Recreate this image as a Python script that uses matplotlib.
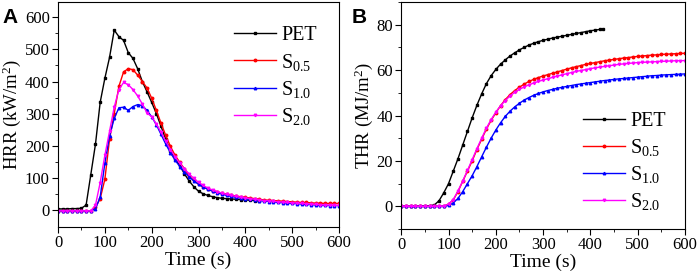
import matplotlib.pyplot as plt
import numpy as np

plt.rcParams['font.family'] = ['Liberation Serif', 'DejaVu Serif']
plt.rcParams['mathtext.fontset'] = 'custom'
plt.rcParams['mathtext.rm'] = 'Liberation Serif'
plt.rcParams['mathtext.it'] = 'Liberation Serif:italic'

# Dados - HRR (passo de 10 s)
t_hrr_pet = np.arange(0, 440, 10)
hrr_pet = [3, 3, 3, 4, 4, 5, 15, 110, 205, 335, 410, 475, 560, 540, 528, 490, 472, 440,
           400, 368, 335, 300, 260, 220, 185, 160, 138, 112, 90, 72, 58, 50, 45, 41, 38,
           36, 35, 34, 33, 32, 31, 30, 29, 28]
t_hrr = np.arange(0, 610, 10)
hrr_s05 = [-3, -3, -3, -3, -3, -3, -3, -3, 8, 35, 95, 220, 300, 385, 430, 440, 437, 420,
           400, 380, 348, 310, 270, 232, 198, 170, 148, 128, 105, 92, 80, 72, 66, 60, 56,
           52, 49, 46, 43, 41, 39, 37, 35, 33, 31, 30, 29, 28, 27, 26, 25, 24, 23, 23, 22,
           21, 21, 20, 20, 20, 20]
hrr_s10 = [-3, -3, -3, -3, -3, -3, -3, -3, 3, 40, 145, 230, 285, 318, 320, 310, 322, 328,
           325, 310, 290, 265, 235, 205, 178, 155, 135, 118, 103, 90, 80, 71, 64, 58, 53,
           49, 45, 42, 39, 37, 35, 33, 31, 29, 27, 26, 25, 23, 22, 21, 20, 19, 18, 17, 16,
           15, 14, 14, 13, 13, 13]
hrr_s20 = [-3, -3, -3, -3, -3, -3, -3, -3, 15, 85, 170, 245, 320, 375, 397, 390, 375, 355,
           330, 302, 290, 268, 242, 214, 188, 165, 145, 128, 112, 98, 86, 76, 68, 62, 57,
           52, 48, 45, 42, 39, 37, 35, 33, 31, 29, 28, 27, 25, 24, 23, 22, 21, 20, 19, 18,
           17, 16, 15, 15, 14, 14]

# Dados - THR
t_thr_pet = list(range(0, 430, 10)) + [426]
thr_pet = [0, 0, 0, 0.1, 0.1, 0.2, 0.3, 0.6, 2.5, 6, 10, 15.5, 21, 27, 33, 39, 44.5, 49.5,
           54, 57.5, 60.3, 62.6, 64.5, 66.2, 67.6, 68.9, 70, 71, 71.8, 72.5, 73.1, 73.6,
           74.1, 74.5, 74.9, 75.3, 75.7, 76.1, 76.5, 76.9, 77.3, 77.6, 77.9, 78.1]
t_thr = np.arange(0, 610, 10)
thr_s05 = [0, 0, 0, 0, 0, 0, 0, 0, 0, 0.1, 1, 2.8, 6.5, 11, 15.5, 20, 25, 29.5, 34, 37.8,
           41.2, 44.3, 47, 49.2, 51, 52.5, 53.8, 55, 55.9, 56.7, 57.4, 58, 58.6, 59.2, 59.8,
           60.4, 61, 61.5, 62, 62.5, 62.9, 63.3, 63.7, 64.1, 64.4, 64.7, 65, 65.3, 65.5,
           65.8, 66, 66.2, 66.4, 66.6, 66.7, 66.9, 67, 67.1, 67.2, 67.3, 67.4]
thr_s10 = [0, 0, 0, 0, 0, 0, 0, 0, 0, 0, 0.4, 1.5, 3.5, 6.5, 10, 13.5, 17.5, 21.8, 26, 30,
           33.6, 36.8, 39.6, 41.9, 43.8, 45.4, 46.8, 47.9, 48.9, 49.7, 50.4, 51, 51.5, 52,
           52.4, 52.8, 53.2, 53.6, 53.9, 54.2, 54.5, 54.8, 55.1, 55.4, 55.6, 55.9, 56.1,
           56.3, 56.5, 56.7, 56.9, 57.1, 57.3, 57.5, 57.6, 57.8, 57.9, 58, 58.1, 58.2, 58.3]
thr_s20 = [0, 0, 0, 0, 0, 0, 0, 0, 0, 0.1, 1, 3, 6.8, 11.2, 15.8, 20.6, 25.4, 30, 34.4, 38.2,
           41.5, 44.3, 46.6, 48.6, 50.2, 51.5, 52.6, 53.5, 54.3, 55, 55.6, 56.2, 56.8, 57.3,
           57.9, 58.4, 58.9, 59.4, 59.8, 60.2, 60.6, 61, 61.3, 61.6, 61.9, 62.2, 62.5, 62.7,
           62.9, 63.1, 63.3, 63.4, 63.5, 63.6, 63.7, 63.8, 63.9, 64, 64.1, 64.1, 64.2]

rotulos = ['PET', 'S$_{0.5}$', 'S$_{1.0}$', 'S$_{2.0}$']
cores = ['black', 'red', 'blue', 'magenta']
marcadores = ['s', 'o', '^', 'v']

fig = plt.figure(figsize=(6.99, 2.75), dpi=100)
axA = fig.add_axes([0.083, 0.175, 0.402, 0.818])
axB = fig.add_axes([0.574, 0.167, 0.406, 0.826])

# Painel A - HRR
seriesA = [(t_hrr_pet, hrr_pet), (t_hrr, hrr_s05), (t_hrr, hrr_s10), (t_hrr, hrr_s20)]
for (x, y), c, m, r in zip(seriesA, cores, marcadores, rotulos):
    axA.plot(x, y, color=c, marker=m, markersize=1.8, linewidth=1, label=r)
axA.set_xlim(0, 600)
axA.set_ylim(-53, 648)
axA.set_xticks(np.arange(0, 700, 100))
axA.set_xticks(np.arange(0, 650, 50), minor=True)
axA.set_yticks(np.arange(0, 700, 100))
axA.set_yticks(np.arange(0, 650, 50), minor=True)
axA.set_xlabel('Time (s)', fontsize=14, labelpad=0)
axA.set_ylabel('HRR (kW/m$^2$)', fontsize=13.5, labelpad=1)
axA.legend(loc='upper right', bbox_to_anchor=(0.965, 0.945), frameon=False, fontsize=14.5,
           handlelength=2.1, handletextpad=0.25, labelspacing=0.3, borderaxespad=0.2)

# Painel B - THR
seriesB = [(t_thr_pet, thr_pet), (t_thr, thr_s05), (t_thr, thr_s10), (t_thr, thr_s20)]
for (x, y), c, m, r in zip(seriesB, cores, marcadores, rotulos):
    axB.plot(x, y, color=c, marker=m, markersize=1.8, linewidth=1, label=r)
axB.set_xlim(0, 600)
axB.set_ylim(-10, 90)
axB.set_xticks(np.arange(0, 700, 100))
axB.set_xticks(np.arange(0, 650, 50), minor=True)
axB.set_yticks(np.arange(0, 100, 20))
axB.set_yticks(np.arange(-10, 95, 10), minor=True)
axB.set_xlabel('Time (s)', fontsize=14, labelpad=0)
axB.set_ylabel('THR (MJ/m$^2$)', fontsize=13.5, labelpad=1)
axB.legend(loc='lower right', bbox_to_anchor=(0.975, 0.02), frameon=False, fontsize=14.5,
           handlelength=2.1, handletextpad=0.25, labelspacing=0.3, borderaxespad=0.2)

for ax in (axA, axB):
    ax.tick_params(which='both', direction='out', labelsize=12, pad=2)
    ax.tick_params(which='major', length=4)
    ax.tick_params(which='minor', length=2)

fig.text(0.004, 0.915, 'A', fontsize=15, fontweight='bold', family='Liberation Sans')
fig.text(0.503, 0.915, 'B', fontsize=15, fontweight='bold', family='Liberation Sans')

fig.savefig('out.png', dpi=100)
